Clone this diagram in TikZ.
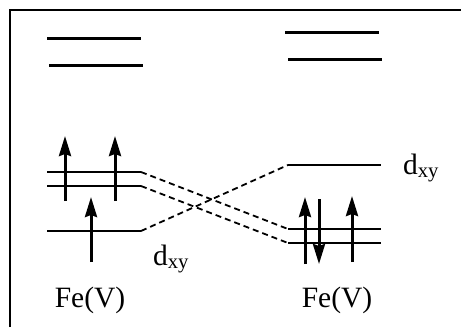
\documentclass[tikz,border=0pt]{standalone}
\usepackage{fontspec}
\setmainfont{Liberation Serif}
\usepackage{tikz}
\usetikzlibrary{arrows.meta, positioning}

\tikzset{
  level/.style={line width=2.6pt},
  hilevel/.style={line width=3pt},
  link/.style={line width=1.8pt, dash pattern=on 6pt off 4pt},
  spin/.style={line width=3pt, -{Stealth[length=20pt,width=12pt,inset=2pt]}},
  lbl/.style={font=\fontsize{29.5}{31}\selectfont, inner sep=0pt}
}

\begin{document}
\begin{tikzpicture}[x=1pt,y=-1pt]
  \useasboundingbox (0,0) rectangle (461,327);
  % frame
  \draw[line width=2pt] (10,327) -- (10,10) -- (461,10);

  % upper levels
  \draw[hilevel] (47,38) -- (141,38);
  \draw[hilevel] (49,65) -- (143,65);
  \draw[hilevel] (285,32) -- (379,32);
  \draw[hilevel] (288,59) -- (382,59);

  % lower levels, left
  \foreach \name/\y in {la/172, lb/186, lc/231}{
    \draw[level] (47,\y) -- (141,\y) coordinate (\name);
  }
  % lower levels, right
  \foreach \name/\y in {ra/229, rb/243, rc/165}{
    \draw[level] (288,\y) coordinate (\name) -- (381,\y);
  }

  % correlation lines
  \draw[link] (la) -- (ra);
  \draw[link] (lb) -- (rb);
  \draw[link] (lc) -- (rc);

  % electrons
  \draw[spin] (65,201) -- (65,136);
  \draw[spin] (115,201) -- (115,136);
  \draw[spin] (91,262) -- (91,197);
  \draw[spin] (305,264) -- (305,197);
  \draw[spin] (319,199) -- (319,264);
  \draw[spin] (352,262) -- (352,196);

  % labels
  \node[lbl] (dxyl) at (171,259) {d\textsubscript{xy}};
  \node[lbl] (dxyr) at (421,168) {d\textsubscript{xy}};
  \node[lbl] (fel) at (90,300) {Fe(V)};
  \node[lbl] (fer) at (337,300) {Fe(V)};
\end{tikzpicture}
\end{document}
